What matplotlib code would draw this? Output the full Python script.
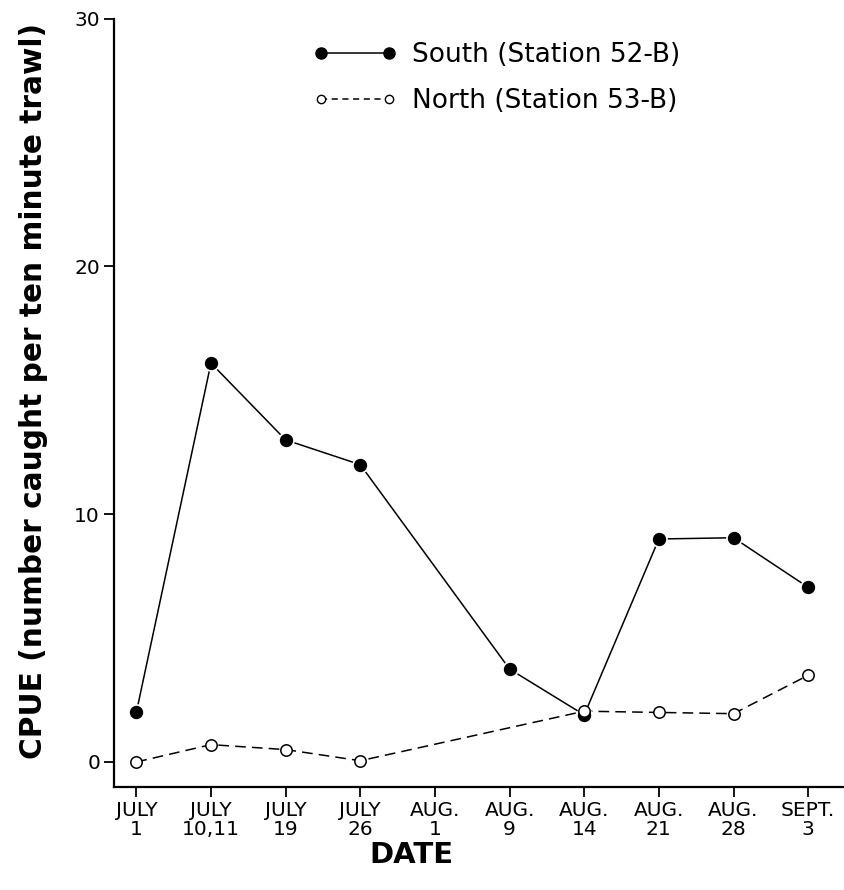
import numpy as np
import matplotlib
matplotlib.use("Agg")
import matplotlib.pyplot as plt
from matplotlib.lines import Line2D

# dates on the x axis (category positions)
dates = ["JULY\n1", "JULY\n10,11", "JULY\n19", "JULY\n26", "AUG.\n1",
         "AUG.\n9", "AUG.\n14", "AUG.\n21", "AUG.\n28", "SEPT.\n3"]

# CPUE values, nan = no sample
south = [2.0, 16.1, 13.0, 12.0, np.nan, 3.75, 1.9, 9.0, 9.05, 7.05]
north = [0.0, 0.7, 0.5, 0.05, np.nan, np.nan, 2.05, 2.0, 1.95, 3.5]

plt.rcParams['font.family'] = ['DejaVu Sans']

fig = plt.figure(figsize=(8.44, 8.9), dpi=100)
ax = fig.add_axes([0.135, 0.116, 0.865, 0.863])

x = np.arange(len(dates))
s = np.array(south)
n = np.array(north)
ms = ~np.isnan(s)
mn = ~np.isnan(n)

ax.plot(x[ms], s[ms], color='black', lw=1.1, zorder=2)
ax.plot(x[ms], s[ms], ls='none', marker='o', ms=11, mfc='white', mec='white', zorder=3)
ax.plot(x[ms], s[ms], ls='none', marker='o', ms=8.6, mfc='black', mec='black', zorder=4)

ax.plot(x[mn], n[mn], color='black', lw=1.1, dashes=(7, 4), zorder=2)
ax.plot(x[mn], n[mn], ls='none', marker='o', ms=8.2, mfc='white', mec='black',
        mew=1.1, zorder=5)

ax.set_xlim(-0.3, 9.48)
ax.set_ylim(-1, 30)
ax.set_xticks(x)
ax.set_xticklabels(dates, fontsize=14.5, linespacing=1.05)
ax.set_yticks([0, 10, 20, 30])
ax.set_yticklabels(["0", "10", "20", "30"], fontsize=14.5)
ax.tick_params(direction='out', length=7, width=1.3, pad=3)

for side in ['top', 'right']:
    ax.spines[side].set_visible(False)
ax.spines['left'].set_linewidth(1.6)
ax.spines['bottom'].set_linewidth(1.6)
ax.spines['left'].set_bounds(-1, 30)

ax.set_ylabel("CPUE (number caught per ten minute trawl)", fontsize=21.3,
              fontweight='bold')
ax.yaxis.set_label_coords(-0.09, 0.515)
ax.set_xlabel("DATE", fontsize=21, fontweight='bold')
ax.xaxis.set_label_coords(0.407, -0.07)

handles = [
    Line2D([], [], color='black', lw=1.1, marker='o', ms=8, mfc='black', mec='black'),
    Line2D([], [], color='black', lw=1.1, dashes=(4, 3), marker='o', ms=6,
           mfc='white', mec='black'),
]
ax.legend(handles, ["South (Station 52-B)", "North (Station 53-B)"],
          loc='upper left', bbox_to_anchor=(0.24, 1.0), frameon=False,
          numpoints=2, handlelength=3.2, fontsize=19, labelspacing=0.75,
          handletextpad=0.55)

fig.savefig("out.png", dpi=100)
